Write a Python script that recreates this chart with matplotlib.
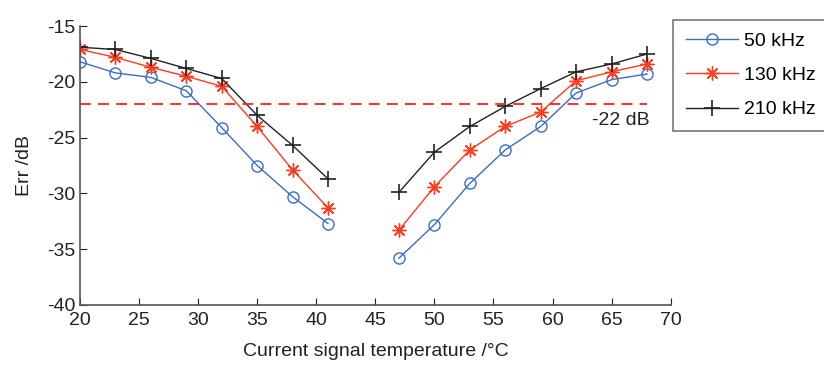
import matplotlib
matplotlib.use("Agg")
import matplotlib.pyplot as plt

plt.rcParams["font.family"] = ["Liberation Sans", "DejaVu Sans"]
plt.rcParams["axes.unicode_minus"] = False

temp_low = [20, 23, 26, 29, 32, 35, 38, 41]
temp_high = [47, 50, 53, 56, 59, 62, 65, 68]

err_50_low = [-18.2, -19.2, -19.6, -20.8, -24.1, -27.5, -30.3, -32.7]
err_50_high = [-35.8, -32.8, -29.1, -26.1, -24.0, -21.0, -19.8, -19.3]
err_130_low = [-17.1, -17.8, -18.7, -19.5, -20.4, -24.0, -27.9, -31.3]
err_130_high = [-33.3, -29.4, -26.1, -24.0, -22.7, -19.9, -19.1, -18.4]
err_210_low = [-16.9, -17.1, -17.9, -18.8, -19.7, -23.0, -25.7, -28.7]
err_210_high = [-29.9, -26.3, -24.0, -22.2, -20.6, -19.1, -18.4, -17.5]

threshold = -22

fig = plt.figure(figsize=(8.24, 3.67), dpi=100)
ax = fig.add_axes([0.097, 0.169, 0.717, 0.76])

styles = [
    ("50 kHz", err_50_low, err_50_high, "#3b6cc4", dict(marker="o", markersize=8, markerfacecolor="none")),
    ("130 kHz", err_130_low, err_130_high, "#ff3b1f", dict(marker=(8, 2, 0), markersize=10)),
    ("210 kHz", err_210_low, err_210_high, "#222222", dict(marker="+", markersize=11, markeredgewidth=1.2)),
]
for label, lo, hi, color, mk in styles:
    ax.plot(temp_low, lo, color=color, lw=1.0, label=label, **mk)
    ax.plot(temp_high, hi, color=color, lw=1.0, **mk)

ax.hlines(threshold, 20, 68, colors="#ff2020", linestyles=(0, (6, 4)), lw=1.3)
ax.text(68.2, threshold - 0.7, "-22 dB", ha="right", va="top", fontsize=14, color="#222222")

ax.set_xlim(20, 70)
ax.set_ylim(-40, -15)
ax.set_xticks(range(20, 71, 5))
ax.set_yticks(range(-40, -14, 5))
ax.tick_params(direction="in", labelsize=14, colors="#222222", length=5)
ax.tick_params(axis="x", pad=5)
for side in ("top", "right"):
    ax.spines[side].set_visible(False)
for side in ("left", "bottom"):
    ax.spines[side].set_color("#555555")
    ax.spines[side].set_linewidth(1.2)

ax.set_xlabel("Current signal temperature /\u00b0C", fontsize=14, color="#222222", labelpad=10)
ax.set_ylabel("Err /dB", fontsize=14, color="#222222", labelpad=10)

leg = fig.legend(loc="upper left", bbox_to_anchor=(0.817, 0.946), fontsize=14,
                 frameon=True, fancybox=False, edgecolor="#555555",
                 handlelength=2.7, handletextpad=0.3, borderpad=0.65,
                 labelspacing=0.85, borderaxespad=0)
leg.get_frame().set_linewidth(1.2)

fig.savefig("out.png", dpi=100)
